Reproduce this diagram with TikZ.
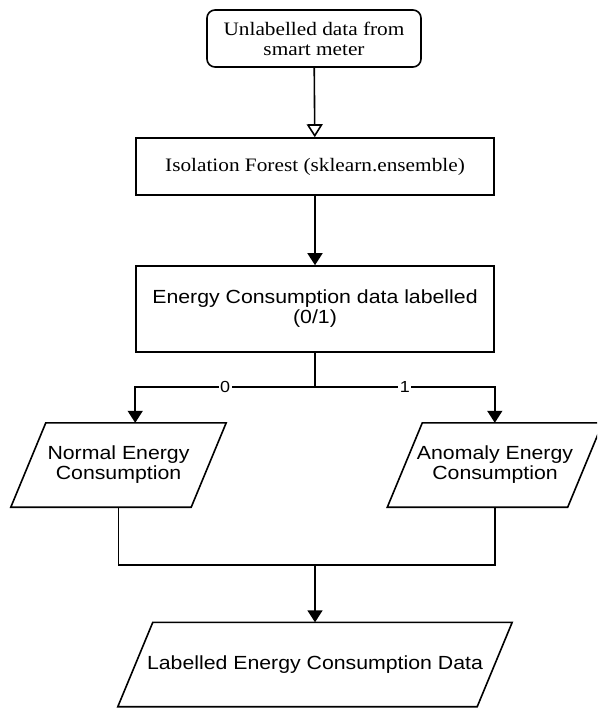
\documentclass[tikz,border=0pt]{standalone}
\usepackage{fontspec}
\setmainfont{Liberation Serif}[FakeStretch=1.12]
\newfontfamily\sansA{Liberation Sans}[FakeStretch=1.12]
\usetikzlibrary{arrows.meta,calc}
\tikzset{
  base/.style={line width=1.6pt, draw=black},
  serifbox/.style={base, rectangle, inner sep=0pt, align=center, text=black,
     font=\fontsize{19}{20}\selectfont},
  sansbox/.style={base, rectangle, inner sep=0pt, align=center, text=black,
     font=\sansA\fontsize{19}{20}\selectfont},
  paratext/.style={rectangle, inner sep=0pt, align=center, text=black,
     font=\sansA\fontsize{19}{20}\selectfont, minimum height=84pt},
  conn/.style={line width=1.6pt},
  arr/.style={conn, -{Triangle[length=12pt,width=15pt]}},
  openarr/.style={conn, -{Triangle[open,length=13pt,width=16pt,fill=white]}},
  branchlbl/.style={fill=white, inner sep=1.5pt, font=\sansA\fontsize{16}{16}\selectfont, text=black}
}
\begin{document}
\begin{tikzpicture}[x=1pt,y=-1pt]
\useasboundingbox (0,0) rectangle (597,708);
\clip (0,0) rectangle (597,708);

\node[serifbox, rounded corners=8pt, minimum width=214pt, minimum height=57pt] (src) at (314,38.5)
  {Unlabelled data from\\smart meter};
\node[serifbox, minimum width=358pt, minimum height=57pt] (iso) at (315,166.5)
  {Isolation Forest (sklearn.ensemble)};
\node[sansbox, minimum width=358pt, minimum height=86pt] (lab) at (315,309)
  {Energy Consumption data labelled\\(0/1)};

\node[paratext, minimum width=180pt] (nrm) at (118.5,465) {Normal Energy\\Consumption};
\node[paratext, minimum width=180pt] (ano) at (495,465) {Anomaly Energy\\Consumption};
\node[paratext, minimum width=359pt] (out) at (315,664.5) {Labelled Energy Consumption Data};

\foreach \n in {nrm,ano,out}{
  \draw[base, line join=miter]
    ($(\n.south west)+(-17.5,0)$) -- ($(\n.south east)+(-17.5,0)$) --
    ($(\n.north east)+(17.5,0)$) -- ($(\n.north west)+(17.5,0)$) -- cycle;
}

\coordinate (split) at (315,387);
\coordinate (join) at (315,565);

\draw[openarr] (src) -- (iso);
\draw[arr] (iso) -- (lab);
\draw[conn] (lab) -- (split);
\draw[arr] (split) -| node[branchlbl, pos=0.25] {0} (lab.west |- nrm.north);
\draw[arr] (split) -| node[branchlbl, pos=0.25] {1} (lab.east |- ano.north);
\draw[conn] (nrm.south) |- (join);
\draw[conn] (ano.south) |- (join);
\draw[arr] (join) -- (out.north);
\end{tikzpicture}
\end{document}
